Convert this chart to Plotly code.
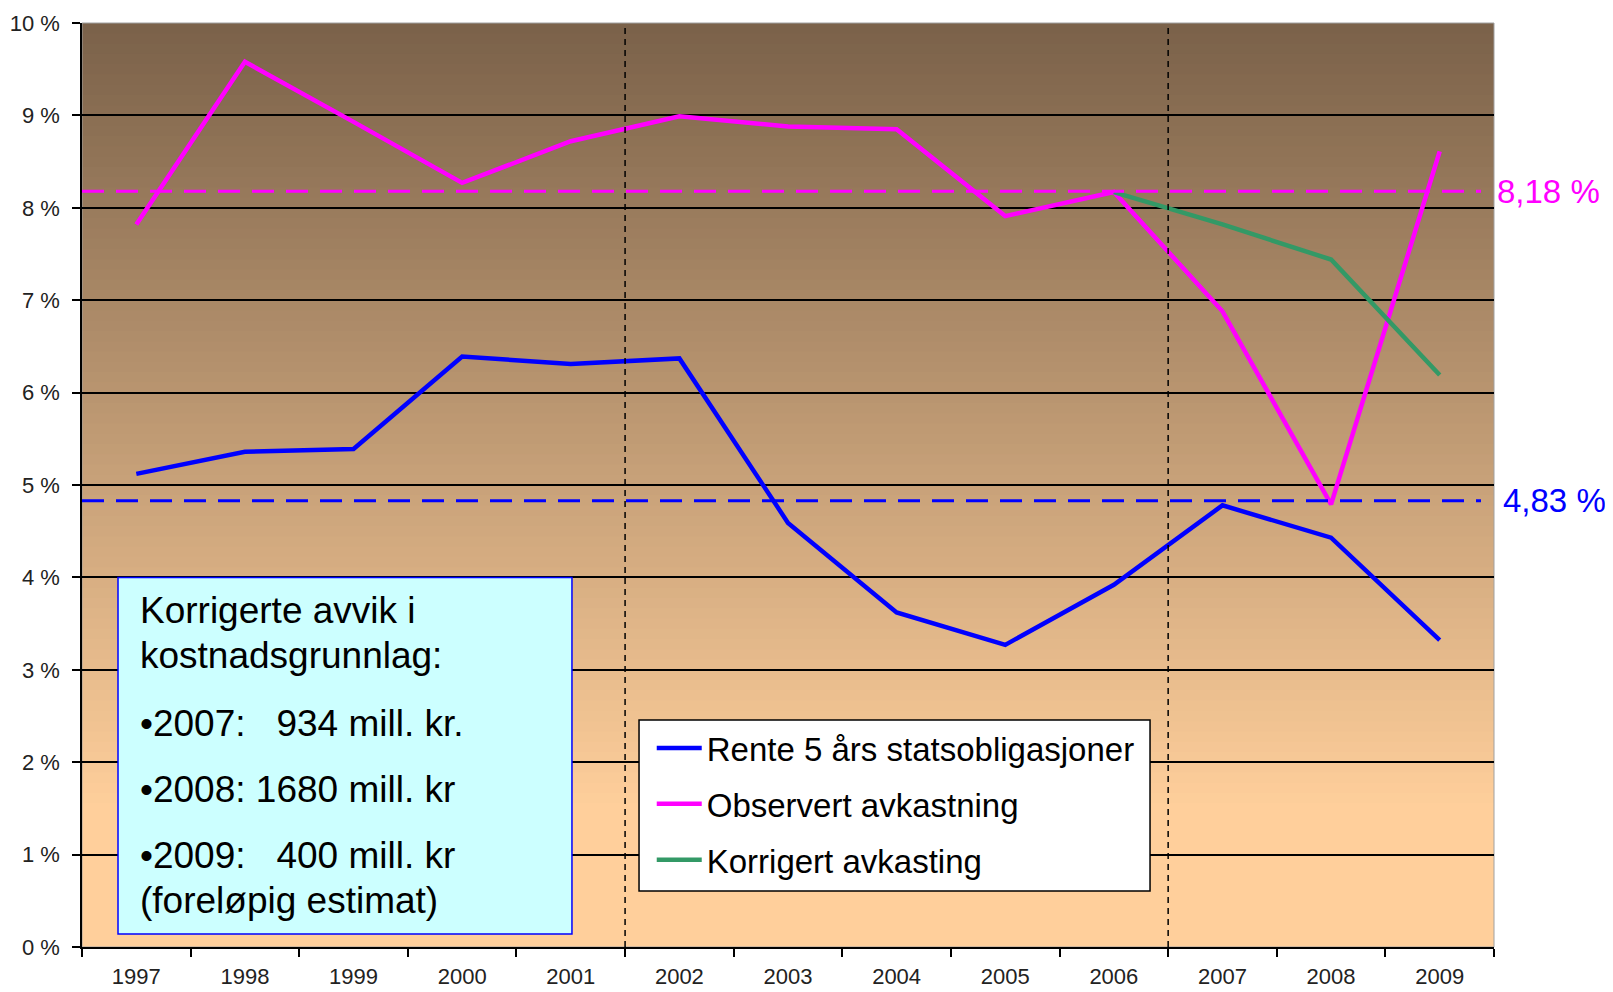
import plotly.graph_objects as go

# chart data
years = ["1997", "1998", "1999", "2000", "2001", "2002", "2003",
         "2004", "2005", "2006", "2007", "2008", "2009"]
rente_5aar = [5.12, 5.36, 5.39, 6.39, 6.31, 6.37, 4.59, 3.62, 3.27, 3.92, 4.78, 4.43, 3.32]
observert = [7.82, 9.58, 8.93, 8.27, 8.72, 8.99, 8.88, 8.85, 7.91, 8.17, 6.88, 4.79, 8.61]
korrigert_years = ["2006", "2007", "2008", "2009"]
korrigert = [8.17, 7.82, 7.44, 6.19]
snitt_observert = 8.18
snitt_rente = 4.83
periode_skille = [4.5, 9.5]  # between 2001/2002 and 2006/2007

box_lines = [
    "Korrigerte avvik i",
    "kostnadsgrunnlag:",
    "•2007:   934 mill. kr.",
    "•2008: 1680 mill. kr",
    "•2009:   400 mill. kr",
    "(foreløpig estimat)",
]
box_line_y = [3.64, 3.15, 2.42, 1.70, 0.99, 0.50]

FONT = "Arial, Liberation Sans, sans-serif"
BLUE = "#0000ff"
MAGENTA = "#ff00ff"
GREEN = "#339966"

fig = go.Figure()

fig.add_trace(go.Scatter(x=years, y=rente_5aar, mode="lines", name="Rente 5 års statsobligasjoner",
                         line=dict(color=BLUE, width=4.5), legendgroup="a"))
fig.add_trace(go.Scatter(x=years, y=observert, mode="lines", name="Observert avkastning",
                         line=dict(color=MAGENTA, width=4.5), legendgroup="b"))
fig.add_trace(go.Scatter(x=korrigert_years, y=korrigert, mode="lines", name="Korrigert avkasting",
                         line=dict(color=GREEN, width=4.5), legendgroup="c"))

shapes = []

# background gradient, dark brown at the top to peach at the bottom
top_rgb = (122, 97, 73)
bot_rgb = (255, 207, 155)
n_bands = 90
for i in range(n_bands):
    y0 = i / n_bands
    y1 = (i + 1) / n_bands
    t = min(1.0, (1 - (y0 + y1) / 2) / 0.85)
    c = tuple(int(round(a + (b - a) * t)) for a, b in zip(top_rgb, bot_rgb))
    shapes.append(dict(type="rect", xref="x domain", yref="y domain", x0=0, x1=1, y0=y0, y1=min(1, y1 + 0.002),
                       fillcolor="rgb(%d,%d,%d)" % c, line=dict(width=0), layer="below"))

# thin grey frame on the top/right edges
shapes.append(dict(type="rect", xref="x domain", yref="y domain", x0=0, x1=1, y0=0, y1=1,
                   line=dict(color="#a0a0a0", width=1), layer="below"))

for xv in periode_skille:
    shapes.append(dict(type="line", xref="x", yref="y", x0=xv, x1=xv, y0=0, y1=10,
                       line=dict(color="black", width=1.5, dash="6px,5px"), layer="above"))

for yv, col in [(snitt_observert, MAGENTA), (snitt_rente, BLUE)]:
    shapes.append(dict(type="line", xref="x", yref="y", x0=-0.5, x1=12.38, y0=yv, y1=yv,
                       line=dict(color=col, width=3, dash="22px,12px"), layer="above"))

# text box
shapes.append(dict(type="rect", xref="paper", yref="y", x0=0.0255, x1=0.347, y0=0.14, y1=4.0,
                   fillcolor="#ccffff", line=dict(color=BLUE, width=1.5), layer="above"))

# legend frame (drawn separately to get the wider padding of the original)
shapes.append(dict(type="rect", xref="paper", yref="paper", x0=0.3945, x1=0.7564, y0=0.0606, y1=0.2457,
                   fillcolor="white", line=dict(color="black", width=1.5), layer="above"))

annotations = []
for txt, yv in zip(box_lines, box_line_y):
    annotations.append(dict(xref="paper", yref="y", x=0.040, y=yv, text=txt, showarrow=False,
                            xanchor="left", yanchor="middle", font=dict(family=FONT, size=37, color="black")))

annotations.append(dict(xref="paper", yref="y", x=1.0, y=snitt_observert, xshift=1,
                        text=("%.2f %%" % snitt_observert).replace(".", ","), showarrow=False,
                        xanchor="left", yanchor="middle", font=dict(family=FONT, size=33, color=MAGENTA)))
annotations.append(dict(xref="paper", yref="y", x=1.0, y=snitt_rente, xshift=7,
                        text=("%.2f %%" % snitt_rente).replace(".", ","), showarrow=False,
                        xanchor="left", yanchor="middle", font=dict(family=FONT, size=33, color=BLUE)))

# the page adds an 8px body margin, so the figure is a bit smaller than the window
fig.update_layout(
    width=1605,
    height=984,
    margin=dict(l=74, r=119, t=15, b=45),
    paper_bgcolor="white",
    plot_bgcolor="#ffcf9b",
    font=dict(family=FONT, size=22, color="#222222"),
    shapes=shapes,
    annotations=annotations,
    showlegend=True,
    legend=dict(
        x=0.4035, y=0.2457, xanchor="left", yanchor="top",
        bgcolor="rgba(0,0,0,0)", borderwidth=0,
        font=dict(family=FONT, size=33, color="black"),
        tracegroupgap=10, itemwidth=45,
    ),
)

fig.update_xaxes(
    type="category", range=[-0.5, 12.5], showgrid=False, zeroline=False, automargin=False,
    showline=True, linecolor="black", linewidth=1.5,
    ticks="outside", ticklen=8, tickcolor="black", tickwidth=1.5, tickson="boundaries",
    ticklabelstandoff=9, tickfont=dict(family=FONT, size=22, color="#222222"),
)
fig.update_yaxes(
    range=[0, 10], dtick=1, ticksuffix=" %", showgrid=True, gridcolor="black", gridwidth=1.5,
    zeroline=False, automargin=False, showline=True, linecolor="black", linewidth=1.5,
    ticks="outside", ticklen=8, tickcolor="black", tickwidth=1.5,
    ticklabelstandoff=8, tickfont=dict(family=FONT, size=22, color="#222222"),
)

fig.write_html("out.html")
